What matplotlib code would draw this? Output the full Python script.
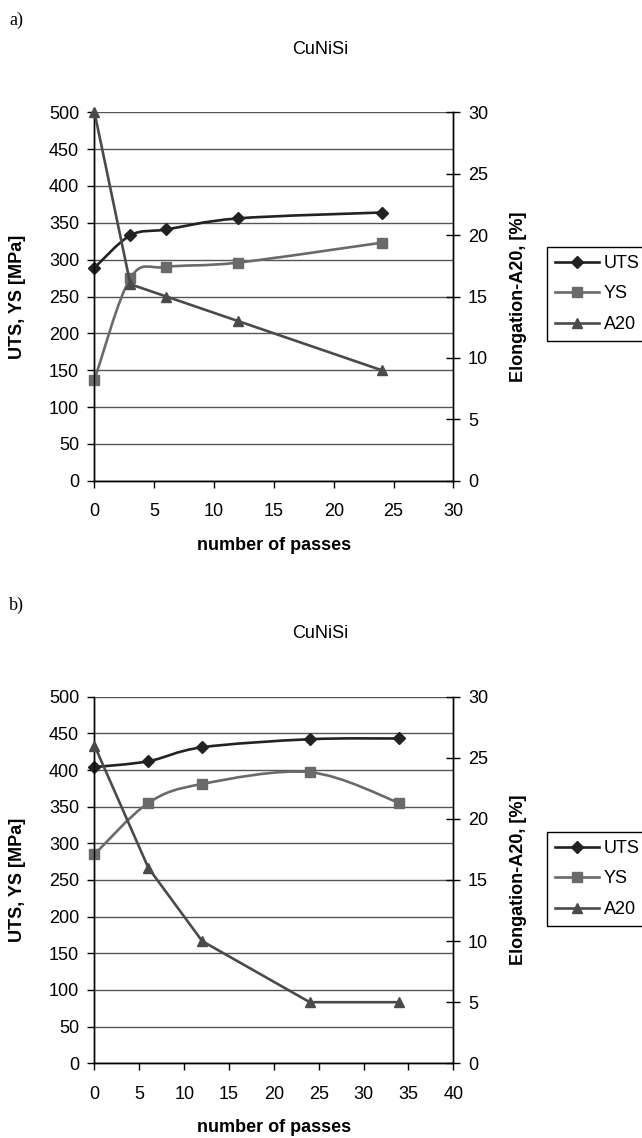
import matplotlib
matplotlib.use('Agg')
import matplotlib.pyplot as plt
from matplotlib.path import Path
from matplotlib.patches import PathPatch
from matplotlib.lines import Line2D
import numpy as np

plt.rcParams['font.family'] = ['Liberation Sans', 'DejaVu Sans']

# panel a)
a_passes = [0, 3, 6, 12, 24]
a_uts = [289, 333, 341, 356, 364]
a_ys = [137, 275, 290, 296, 323]
a_a20 = [30, 16, 15, 13, 9]

# panel b)
b_passes = [0, 6, 12, 24, 34]
b_uts = [404, 412, 431, 442, 443]
b_ys = [285, 355, 381, 397, 355]
b_a20 = [26, 16, 10, 5, 5]

series_names = ['UTS', 'YS', 'A20']
colors = {'UTS': '#222222', 'YS': '#6a6a6a', 'A20': '#4a4a4a'}
markers = {'UTS': ('D', 6.5), 'YS': ('s', 6.5), 'A20': ('^', 7.5)}

W, H = 642, 1138
LW = 1.9
FS = 13


def smooth_path(x, y):
    # Excel-like smoothed line: cubic Bezier through the points
    x = np.asarray(x, float)
    y = np.asarray(y, float)
    n = len(x)
    verts = [(x[0], y[0])]
    codes = [Path.MOVETO]
    for i in range(n - 1):
        p0 = i - 1 if i > 0 else i
        p3 = i + 2 if i + 2 < n else i + 1
        c1 = (x[i] + (x[i + 1] - x[p0]) / 6, y[i] + (y[i + 1] - y[p0]) / 6)
        c2 = (x[i + 1] - (x[p3] - x[i]) / 6, y[i + 1] - (y[p3] - y[i]) / 6)
        verts += [c1, c2, (x[i + 1], y[i + 1])]
        codes += [Path.CURVE4] * 3
    return Path(verts, codes)


def draw_panel(fig, top_px, bottom_px, passes, uts, ys, a20, xmax, letter, letter_y, title_y, legend_top):
    left_px, right_px = 94.5, 453.3
    ax = fig.add_axes([left_px / W, 1 - bottom_px / H,
                       (right_px - left_px) / W, (bottom_px - top_px) / H])
    ax2 = ax.twinx()

    ax.set_xlim(0, xmax)
    ax.set_ylim(0, 500)
    ax2.set_ylim(0, 30)
    ax.set_xticks(np.arange(0, xmax + 1, 5))
    ax.set_yticks(np.arange(0, 501, 50))
    ax2.set_yticks(np.arange(0, 31, 5))

    ax.grid(True, axis='y', color='#555555', linewidth=1.0)
    ax.set_axisbelow(True)
    for a in (ax, ax2):
        a.spines['top'].set_visible(False)
        for s in ('left', 'right', 'bottom'):
            a.spines[s].set_color('black')
            a.spines[s].set_linewidth(1.0)

    ax.tick_params(axis='x', direction='out', length=5, width=1, pad=11, labelsize=FS)
    ax.tick_params(axis='y', direction='out', length=5, width=1, pad=6, labelsize=FS)
    ax2.tick_params(axis='y', direction='inout', length=10, width=1, pad=5.5, labelsize=FS)

    # UTS and YS smoothed on the left axis
    for name, vals in (('UTS', uts), ('YS', ys)):
        ax.add_patch(PathPatch(smooth_path(passes, vals), facecolor='none',
                               edgecolor=colors[name], linewidth=LW, zorder=3))
        m, ms = markers[name]
        ax.plot(passes, vals, linestyle='none', marker=m, markersize=ms,
                color=colors[name], zorder=4, clip_on=False)

    # A20 on the right axis
    m, ms = markers['A20']
    ax2.plot(passes, a20, color=colors['A20'], linewidth=LW, marker=m,
             markersize=ms, zorder=4, clip_on=False)

    ax.set_xlabel('number of passes', fontsize=FS, fontweight='bold')
    ax.xaxis.set_label_coords(0.5, -0.152)
    ax.set_ylabel('UTS, YS [MPa]', fontsize=FS, fontweight='bold')
    ax.yaxis.set_label_coords(-0.191, 0.5)
    ax2.set_ylabel('Elongation-A20, [%]', fontsize=FS, fontweight='bold')
    ax2.yaxis.set_label_coords(1.159, 0.5)

    fig.text(9 / W, 1 - letter_y / H, letter, fontsize=FS, family='Liberation Serif',
             ha='left', va='center')
    fig.text(320 / W, 1 - title_y / H, 'CuNiSi', fontsize=FS, ha='center', va='center')

    handles = []
    for name in series_names:
        m, ms = markers[name]
        handles.append(Line2D([], [], color=colors[name], linewidth=LW, marker=m, markersize=ms))
    leg = fig.legend(handles, series_names, loc='upper left',
                     bbox_to_anchor=(546.7 / W, 1 - legend_top / H),
                     fontsize=FS, frameon=True, fancybox=False, framealpha=1,
                     edgecolor='black', borderpad=0.45, labelspacing=0.75,
                     handlelength=2.45, handletextpad=0.25, borderaxespad=0)
    leg.get_frame().set_linewidth(1.0)
    return ax, ax2


fig = plt.figure(figsize=(W / 100, H / 100), dpi=100)
draw_panel(fig, 112.3, 480.7, a_passes, a_uts, a_ys, a_a20, 30, 'a)', 20, 50, 246.7)
draw_panel(fig, 696.7, 1063.3, b_passes, b_uts, b_ys, b_a20, 40, 'b)', 605, 633, 831.7)

plt.savefig('out.png', dpi=100)
plt.close()
